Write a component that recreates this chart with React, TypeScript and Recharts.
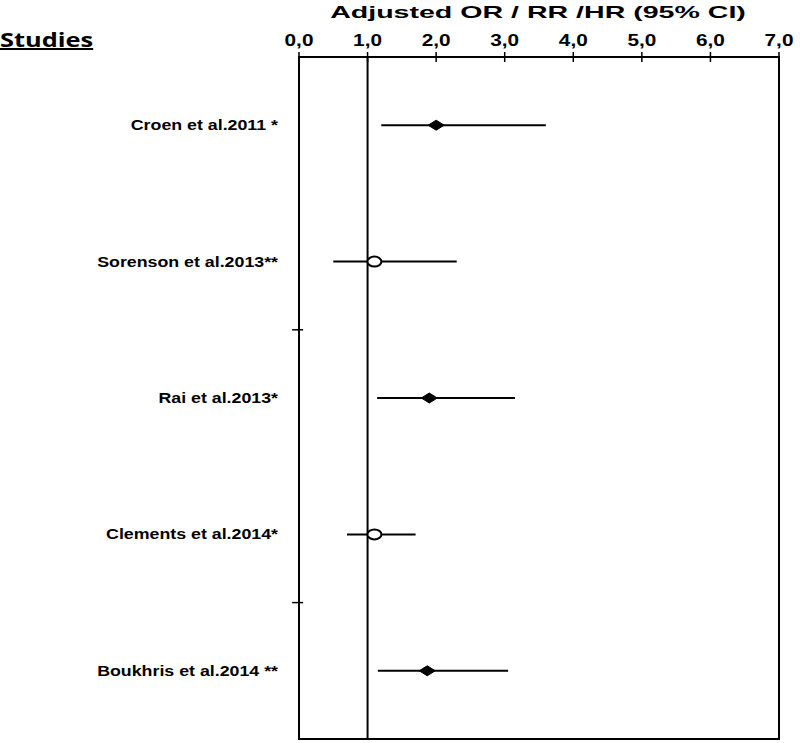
import React from "react";
import {
  ScatterChart,
  Scatter,
  XAxis,
  YAxis,
  ErrorBar,
  ReferenceLine,
  ReferenceArea,
} from "recharts";

const studies = [
  "Croen et al.2011 *",
  "Sorenson et al.2013**",
  "Rai et al.2013*",
  "Clements et al.2014*",
  "Boukhris et al.2014 **",
];
const estimates = [2.0, 1.1, 1.9, 1.1, 1.87];
const lower = [1.2, 0.5, 1.14, 0.7, 1.15];
const upper = [3.6, 2.3, 3.15, 1.7, 3.05];
const significant = [true, false, true, false, true];
const xTicks = [0, 1, 2, 3, 4, 5, 6, 7];
const rowTicks = [1, 2, 3, 4, 5];
const separators = [2.5, 4.5];

const rows = studies.map((name, i) => ({
  name,
  row: i + 1,
  or: estimates[i],
  ci: [estimates[i] - lower[i], upper[i] - estimates[i]],
  significant: significant[i],
}));

const font = "'Liberation Sans', Arial, sans-serif";

// the original figure is stretched sideways, so text gets a horizontal scale
const XTick = (props: any) => {
  const { x, y, payload } = props;
  const label = Number(payload.value).toFixed(1).replace(".", ",");
  return (
    <g transform={`translate(${x},${y})`}>
      <text
        transform="scale(1.3,1)"
        y={-11}
        textAnchor="middle"
        fill="#000"
        fontSize={16}
        fontWeight="bold"
        fontFamily={font}
      >
        {label}
      </text>
      <line x1={0} x2={0} y1={-5} y2={5} stroke="#000" strokeWidth={1.5} />
    </g>
  );
};

const YTick = (props: any) => {
  const { x, y, payload } = props;
  return (
    <g transform={`translate(${x},${y})`}>
      <text
        transform="scale(1.27,1)"
        dy="0.35em"
        textAnchor="end"
        fill="#000"
        fontSize={14}
        fontWeight="bold"
        fontFamily={font}
      >
        {studies[payload.value - 1] ?? ""}
      </text>
    </g>
  );
};

const Diamond = (props: any) => {
  const { cx, cy } = props;
  return (
    <polygon
      points={`${cx - 8},${cy} ${cx},${cy - 5} ${cx + 8},${cy} ${cx},${cy + 5}`}
      fill="#000"
      stroke="#000"
    />
  );
};

const OpenCircle = (props: any) => {
  const { cx, cy } = props;
  return <ellipse cx={cx} cy={cy} rx={7} ry={5} fill="#fff" stroke="#000" strokeWidth={2} />;
};

const App = () => {
  return (
    <div style={{ position: "absolute", left: 0, top: 0, width: 800, height: 743, background: "#fff" }}>
      <div
        style={{
          position: "absolute",
          left: 338,
          top: 1,
          width: 400,
          textAlign: "center",
          fontFamily: font,
          fontWeight: "bold",
          fontSize: 17,
          lineHeight: "24px",
          transform: "scaleX(1.68)",
          transformOrigin: "50% 50%",
          whiteSpace: "nowrap",
        }}
      >
        Adjusted OR / RR /HR (95% CI)
      </div>
      <div
        style={{
          position: "absolute",
          left: 0,
          top: 27,
          fontFamily: "'Open Sans', sans-serif",
          fontWeight: "bold",
          fontSize: 20,
          lineHeight: "26px",
          textDecoration: "underline",
          transform: "scaleX(1.27)",
          transformOrigin: "0 50%",
          whiteSpace: "nowrap",
        }}
      >
        Studies
      </div>
      <ScatterChart width={800} height={743} margin={{ top: 27, right: 21, bottom: 4, left: 0 }}>
        <XAxis
          type="number"
          dataKey="or"
          orientation="top"
          domain={[0, 7]}
          ticks={xTicks}
          interval={0}
          height={30}
          tick={<XTick />}
          axisLine={{ stroke: "#000", strokeWidth: 2 }}
          tickLine={false}
          tickSize={0}
          tickMargin={0}
        />
        <YAxis
          type="number"
          dataKey="row"
          domain={[0.5, 5.5]}
          reversed
          ticks={rowTicks}
          interval={0}
          width={299}
          tick={<YTick />}
          axisLine={{ stroke: "#000", strokeWidth: 2 }}
          tickLine={false}
          tickSize={0}
          tickMargin={21}
        />
        <ReferenceArea x1={0} x2={7} y1={0.5} y2={5.5} fill="none" stroke="#000" strokeWidth={2} />
        {separators.map((s) => (
          <ReferenceLine
            key={s}
            segment={[
              { x: -0.1, y: s },
              { x: 0.06, y: s },
            ]}
            stroke="#000"
            strokeWidth={1.5}
            ifOverflow="visible"
          />
        ))}
        <Scatter
          data={rows.filter((r) => r.significant)}
          shape={<Diamond />}
          isAnimationActive={false}
        >
          <ErrorBar dataKey="ci" direction="x" width={0} stroke="#000" strokeWidth={2} />
        </Scatter>
        <Scatter
          data={rows.filter((r) => !r.significant)}
          shape={<OpenCircle />}
          isAnimationActive={false}
        >
          <ErrorBar dataKey="ci" direction="x" width={0} stroke="#000" strokeWidth={2} />
        </Scatter>
        <ReferenceLine x={1} stroke="#000" strokeWidth={2} />
      </ScatterChart>
    </div>
  );
};

export default App;
